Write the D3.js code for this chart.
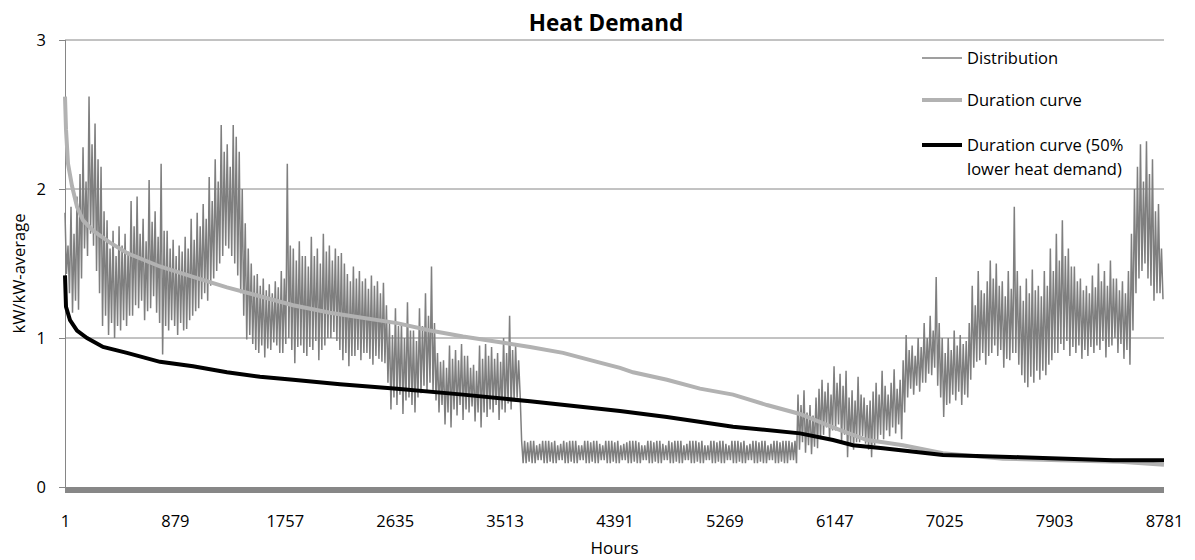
<!DOCTYPE html>
<html>
<head>
<meta charset="utf-8">
<script src="https://cdn.jsdelivr.net/npm/d3@7"></script>
<style>
  body { margin: 0; background: #fff; }
  text { font-family: "Open Sans", sans-serif; fill: #000; }
</style>
</head>
<body>
<div id="chart"></div>
<script>
var svgWidth = 1195;
var svgHeight = 560;

// plot area edges in pixels
var plot = { left: 65, right: 1164, top: 40, bottom: 487 };

// x tick labels (hour categories)
var xTickLabels = [1, 879, 1757, 2635, 3513, 4391, 5269, 6147, 7025, 7903, 8781];
var yTicks = [0, 1, 2, 3];

// Distribution: daily high / low values (366 days)
var distStep = 24;
var distHigh = [
  // Jan - May
  1.84,1.62,1.88,1.70,1.95,2.10,2.28,2.05,2.62,2.30,2.44,2.20,2.15,1.85,1.79,1.60,1.72,1.55,1.75,1.62,
  1.70,1.58,1.92,1.75,1.95,1.70,1.80,1.65,2.06,1.78,1.85,1.68,2.17,1.72,1.72,1.60,1.66,1.55,1.62,1.58,
  1.68,1.60,1.80,1.66,1.84,1.75,1.90,1.80,2.08,1.92,2.20,2.05,2.43,2.25,2.30,2.15,2.43,2.35,2.25,2.00,
  1.77,1.60,1.50,1.42,1.43,1.35,1.40,1.32,1.36,1.30,1.38,1.34,1.45,1.40,2.17,1.62,1.60,1.52,1.65,1.55,
  1.55,1.48,1.68,1.55,1.60,1.50,1.70,1.58,1.62,1.52,1.60,1.55,1.57,1.50,1.43,1.38,1.48,1.40,1.45,1.38,
  1.40,1.33,1.42,1.35,1.38,1.30,1.37,1.22,1.10,1.02,1.20,1.08,1.10,1.00,1.24,1.05,1.05,0.98,1.20,1.08,
  1.30,1.15,1.48,1.10,0.90,0.84,0.85,0.80,0.95,0.86,0.92,0.85,0.96,0.88,0.88,0.80,0.82,0.78,0.95,0.86,
  0.96,0.88,0.94,0.86,0.90,0.84,1.00,0.90,1.15,0.92,0.95,0.85,
  // summer
  0.31,0.31,0.30,0.31,0.31,0.28,0.29,
  0.31,0.31,0.31,0.30,0.31,0.28,0.29,
  0.31,0.30,0.31,0.31,0.31,0.28,0.28,
  0.31,0.31,0.30,0.31,0.31,0.29,0.28,
  0.31,0.31,0.31,0.30,0.31,0.28,0.29,
  0.30,0.31,0.31,0.31,0.30,0.28,0.28,
  0.31,0.31,0.30,0.31,0.31,0.29,0.28,
  0.31,0.30,0.31,0.31,0.31,0.28,0.29,
  0.31,0.31,0.31,0.30,0.31,0.28,0.28,
  0.31,0.31,0.30,0.31,0.31,0.29,0.28,
  0.31,0.31,0.31,0.30,0.31,0.28,0.29,
  0.31,0.31,0.30,0.31,0.31,0.28,0.29,
  0.31,0.31,0.30,0.31,0.31,0.31,0.30,0.31,
  // Sep - Dec
  0.62,0.55,0.65,0.50,0.55,0.48,0.60,0.66,0.72,0.64,0.70,0.62,0.81,0.70,0.76,0.68,0.78,0.60,0.65,0.58,
  0.74,0.62,0.60,0.55,0.58,0.64,0.70,0.62,0.78,0.68,0.62,0.70,0.79,0.66,0.72,0.85,1.02,0.92,0.95,0.88,
  1.00,0.94,1.10,1.00,1.15,1.05,1.41,1.10,1.00,0.90,1.00,0.92,1.05,0.95,1.02,0.96,0.98,1.10,1.35,1.22,
  1.45,1.32,1.30,1.38,1.52,1.40,1.50,1.35,1.38,1.28,1.45,1.33,1.88,1.45,1.35,1.25,1.40,1.30,1.46,1.32,
  1.35,1.28,1.45,1.35,1.60,1.45,1.70,1.52,1.79,1.55,1.60,1.48,1.48,1.38,1.40,1.32,1.35,1.30,1.42,1.34,
  1.50,1.38,1.45,1.35,1.52,1.40,1.40,1.32,1.38,1.30,1.45,1.70,2.00,2.15,2.30,2.05,2.32,2.10,2.20,1.85,
  1.90,1.60
];
var distLow = [
  // Jan - May
  1.43,1.30,1.17,1.25,1.19,1.40,1.60,1.55,1.70,1.62,1.45,1.30,1.08,1.15,1.02,1.10,1.00,1.08,1.05,1.12,
  1.08,1.15,1.15,1.22,1.20,1.25,1.12,1.18,1.20,1.28,1.17,1.10,0.89,1.08,1.05,1.12,1.08,1.02,1.10,1.05,
  1.06,1.12,1.15,1.18,1.20,1.26,1.30,1.25,1.35,1.40,1.45,1.50,1.55,1.62,1.60,1.55,1.50,1.42,1.30,1.15,
  0.99,1.02,0.96,0.92,0.90,0.95,0.87,0.93,0.92,0.97,0.95,0.90,0.90,0.96,1.00,0.92,0.83,0.94,0.95,0.90,
  0.88,0.94,0.92,0.98,0.85,0.92,0.95,1.00,1.00,1.04,0.98,0.92,0.85,0.90,0.81,0.88,0.88,0.92,0.85,0.90,
  0.90,0.86,0.82,0.88,0.86,0.84,0.83,0.70,0.52,0.60,0.55,0.62,0.49,0.58,0.60,0.55,0.50,0.60,0.63,0.68,
  0.65,0.70,0.63,0.58,0.50,0.55,0.42,0.50,0.40,0.52,0.48,0.55,0.45,0.52,0.50,0.54,0.44,0.50,0.40,0.50,
  0.47,0.52,0.50,0.55,0.45,0.52,0.50,0.56,0.52,0.58,0.60,0.62,
  // summer
  0.16,0.16,0.17,0.16,0.16,0.18,0.18,
  0.16,0.16,0.17,0.16,0.16,0.18,0.18,
  0.16,0.16,0.17,0.16,0.16,0.18,0.18,
  0.16,0.16,0.17,0.16,0.16,0.18,0.18,
  0.16,0.16,0.17,0.16,0.16,0.18,0.18,
  0.16,0.16,0.17,0.16,0.16,0.18,0.18,
  0.16,0.16,0.17,0.16,0.16,0.18,0.18,
  0.16,0.16,0.17,0.16,0.16,0.18,0.18,
  0.16,0.16,0.17,0.16,0.16,0.18,0.18,
  0.16,0.16,0.17,0.16,0.16,0.18,0.18,
  0.16,0.16,0.17,0.16,0.16,0.18,0.18,
  0.16,0.16,0.17,0.16,0.16,0.18,0.18,
  0.16,0.16,0.17,0.16,0.16,0.18,0.18,0.16,
  // Sep - Dec
  0.25,0.30,0.23,0.28,0.22,0.27,0.26,0.32,0.35,0.40,0.32,0.38,0.38,0.42,0.30,0.35,0.20,0.28,0.25,0.30,
  0.30,0.34,0.29,0.25,0.20,0.28,0.31,0.35,0.32,0.38,0.34,0.40,0.36,0.42,0.32,0.50,0.60,0.66,0.62,0.68,
  0.64,0.70,0.70,0.76,0.75,0.80,0.68,0.60,0.47,0.55,0.56,0.62,0.58,0.64,0.55,0.62,0.60,0.72,0.80,0.84,
  0.85,0.90,0.82,0.88,0.90,0.95,0.88,0.92,0.80,0.86,0.85,0.90,0.90,0.82,0.75,0.70,0.67,0.74,0.70,0.78,
  0.72,0.78,0.75,0.82,0.85,0.90,0.90,0.96,0.92,0.98,0.88,0.94,0.90,0.95,0.86,0.92,0.88,0.94,0.90,0.95,
  0.92,0.98,0.87,0.94,0.95,1.00,0.90,0.96,0.86,0.92,0.82,1.05,1.30,1.40,1.45,1.50,1.40,1.35,1.25,1.30,
  1.30,1.26
];

// Duration curve
var durHours  = [1, 9, 25, 57, 97, 145, 225, 361, 496, 760, 1024, 1295, 1559, 1823, 2118, 2654, 2917, 3181, 3452, 3716, 3980, 4251, 4435, 4539, 4810, 5074, 5338, 5609, 5873, 6137, 6296, 6408, 6536, 6696, 7015, 7495, 7950, 8430, 8781];
var durValues = [2.62, 2.40, 2.17, 2.02, 1.88, 1.79, 1.72, 1.64, 1.57, 1.48, 1.41, 1.34, 1.28, 1.22, 1.17, 1.10, 1.05, 1.01, 0.975, 0.94, 0.90, 0.84, 0.80, 0.77, 0.72, 0.66, 0.62, 0.55, 0.49, 0.40, 0.35, 0.315, 0.30, 0.28, 0.226, 0.19, 0.18, 0.17, 0.15];

// Duration curve (50% lower heat demand)
var lowHours  = [1, 9, 41, 97, 177, 305, 496, 760, 1024, 1295, 1559, 1823, 2198, 2654, 3181, 3716, 4435, 4810, 5338, 5873, 6137, 6296, 6536, 6696, 7015, 7630, 8373, 8781];
var lowValues = [1.42, 1.21, 1.12, 1.05, 1.00, 0.94, 0.90, 0.84, 0.81, 0.77, 0.74, 0.72, 0.69, 0.66, 0.62, 0.575, 0.51, 0.47, 0.405, 0.36, 0.315, 0.28, 0.26, 0.245, 0.215, 0.20, 0.18, 0.18];

var legendLabels = ["Distribution", "Duration curve", ["Duration curve (50%", "lower heat demand)"]];

var svg = d3.select("#chart")
  .append("svg")
  .attr("width", svgWidth)
  .attr("height", svgHeight);

var x = d3.scaleLinear()
  .domain([1, 8781])
  .range([plot.left, plot.right]);

var y = d3.scaleLinear()
  .domain([0, 3])
  .range([plot.bottom, plot.top]);

// gridlines
svg.append("g")
  .selectAll("line")
  .data(yTicks.filter(d => d > 0))
  .enter()
  .append("line")
  .attr("x1", plot.left)
  .attr("x2", plot.right)
  .attr("y1", d => y(d))
  .attr("y2", d => y(d))
  .attr("stroke", "#868686")
  .attr("stroke-width", 1);

// y axis
var leftAxis = d3.axisLeft(y).tickValues(yTicks).tickSize(6).tickPadding(13).tickFormat(d3.format("d"));
var yAxisG = svg.append("g")
  .attr("transform", `translate(${plot.left},0)`)
  .call(leftAxis);
yAxisG.select(".domain").attr("stroke", "#868686").attr("d", `M0.5,${plot.top}V${plot.bottom}`);
yAxisG.selectAll(".tick line").attr("stroke", "#868686");
yAxisG.selectAll("text").style("font-size", "16.5px").attr("fill", "#000");

// x axis labels (no tick marks)
var bottomAxis = d3.axisBottom(x).tickValues(xTickLabels).tickSize(0).tickPadding(28).tickFormat(d3.format("d"));
var xAxisG = svg.append("g")
  .attr("transform", `translate(0,${plot.bottom})`)
  .call(bottomAxis);
xAxisG.select(".domain").remove();
xAxisG.selectAll("text").style("font-size", "16.5px").attr("fill", "#000");

// distribution: daily peak then trough
var distPoints = [];
distHigh.forEach(function(v, i) {
  var h = 1 + i * distStep;
  distPoints.push([h, v]);
  distPoints.push([h + distStep / 2, distLow[i]]);
});

var line = d3.line()
  .x(d => x(d[0]))
  .y(d => y(d[1]));

svg.append("path")
  .datum(distPoints)
  .attr("d", line)
  .attr("fill", "none")
  .attr("stroke", "#7f7f7f")
  .attr("stroke-width", 1.5)
  .attr("stroke-linejoin", "miter");

svg.append("path")
  .datum(durHours.map((h, i) => [h, durValues[i]]))
  .attr("d", line)
  .attr("fill", "none")
  .attr("stroke", "#b2b2b2")
  .attr("stroke-width", 4);

svg.append("path")
  .datum(lowHours.map((h, i) => [h, lowValues[i]]))
  .attr("d", line)
  .attr("fill", "none")
  .attr("stroke", "#000")
  .attr("stroke-width", 4);

// thick horizontal axis at zero
svg.append("line")
  .attr("x1", plot.left)
  .attr("x2", plot.right)
  .attr("y1", y(0) + 3)
  .attr("y2", y(0) + 3)
  .attr("stroke", "#878787")
  .attr("stroke-width", 6);

// title and axis titles
svg.append("text")
  .attr("x", 606)
  .attr("y", 31)
  .attr("text-anchor", "middle")
  .style("font-size", "22.5px")
  .style("font-weight", "bold")
  .text("Heat Demand");

svg.append("text")
  .attr("transform", `translate(25, ${(plot.top + plot.bottom) / 2 + 10}) rotate(-90)`)
  .attr("text-anchor", "middle")
  .style("font-size", "16.5px")
  .text("kW/kW-average");

svg.append("text")
  .attr("x", (plot.left + plot.right) / 2)
  .attr("y", 554)
  .attr("text-anchor", "middle")
  .style("font-size", "17px")
  .text("Hours");

// legend
var legendStyles = [
  { color: "#7f7f7f", width: 1.5, y: 58 },
  { color: "#b2b2b2", width: 4, y: 100 },
  { color: "#000", width: 4, y: 145 }
];
var legend = svg.append("g");
legendLabels.forEach(function(lab, i) {
  var st = legendStyles[i];
  legend.append("line")
    .attr("x1", 922).attr("x2", 962)
    .attr("y1", st.y).attr("y2", st.y)
    .attr("stroke", st.color)
    .attr("stroke-width", st.width);
  var lines = Array.isArray(lab) ? lab : [lab];
  var t = legend.append("text")
    .attr("x", 967)
    .attr("y", st.y + 6)
    .style("font-size", "16.5px");
  lines.forEach(function(s, j) {
    t.append("tspan")
      .attr("x", 967)
      .attr("dy", j === 0 ? 0 : 24)
      .text(s);
  });
});
</script>
</body>
</html>
